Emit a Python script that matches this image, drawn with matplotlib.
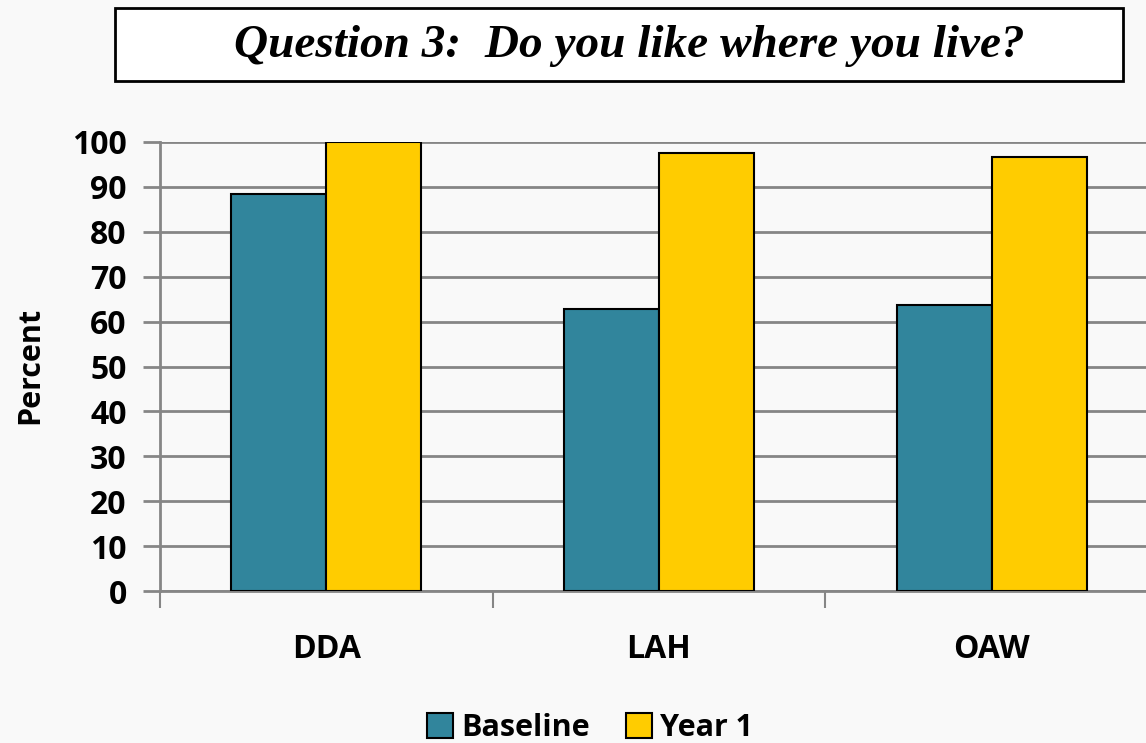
import matplotlib.pyplot as plt
import numpy as np
from matplotlib.patches import Rectangle

# survey results, percent answering yes
sites = ['DDA', 'LAH', 'OAW']
baseline = [88.5, 62.8, 63.7]
year1 = [100.0, 97.5, 96.7]
series_names = ['Baseline', 'Year 1']
yticks = list(range(0, 101, 10))

teal = '#31859c'
gold = '#ffcc00'
grid_col = '#868686'
bg = '#f9f9f9'

plt.rcParams['font.family'] = ['Open Sans', 'DejaVu Sans']

fig = plt.figure(figsize=(11.46, 7.43), dpi=100, facecolor=bg)
ax = fig.add_axes([160 / 1146, 1 - 591 / 743, 998 / 1146, 449 / 743])
ax.set_facecolor('none')

x = np.arange(len(sites))
w = 0.286
ax.bar(x - w / 2, baseline, w, color=teal, edgecolor='black', linewidth=1.5,
       label=series_names[0], zorder=3)
ax.bar(x + w / 2, year1, w, color=gold, edgecolor='black', linewidth=1.5,
       label=series_names[1], zorder=3)

ax.set_xlim(-0.5, len(sites) - 0.5)
ax.set_ylim(0, 100)
ax.set_yticks(yticks)
ax.set_yticklabels([str(t) for t in yticks], fontsize=23, fontweight='bold')
ax.yaxis.grid(True, color=grid_col, linewidth=2, zorder=0)
ax.tick_params(axis='y', length=12, width=2, color=grid_col, pad=12)

# category separators on the x axis
ax.set_xticks(np.arange(len(sites) + 1) - 0.5, minor=False)
ax.set_xticklabels([])
ax.tick_params(axis='x', length=12, width=1.5, color=grid_col, direction='out')
for i, s in enumerate(sites):
    ax.text(i, -13, s, ha='center', va='center', fontsize=23,
            fontweight='bold', transform=ax.transData, clip_on=False)

for side in ['top', 'right']:
    ax.spines[side].set_visible(False)
ax.spines['left'].set_color(grid_col)
ax.spines['left'].set_linewidth(2)
ax.spines['bottom'].set_color(grid_col)
ax.spines['bottom'].set_linewidth(2)

fig.text(30 / 1146, 1 - 365 / 743, 'Percent', rotation=90, ha='center',
         va='center', fontsize=22, fontweight='bold')

# title box
fig.patches.append(Rectangle((115 / 1146, 1 - 81 / 743), 1008 / 1146, 73 / 743,
                             transform=fig.transFigure, facecolor='white',
                             edgecolor='black', linewidth=2))
fig.text(629 / 1146, 1 - 46 / 743, 'Question 3:  Do you like where you live?',
         ha='center', va='center', fontsize=34, fontstyle='italic',
         fontweight='bold', family=['Liberation Serif', 'DejaVu Serif'])

leg = fig.legend(loc='center', bbox_to_anchor=(590 / 1146, 1 - 728 / 743),
                 ncol=2, frameon=False, prop={'weight': 'bold', 'size': 22},
                 handlelength=0.85, handleheight=0.85, handletextpad=0.25,
                 columnspacing=1.2)

fig.savefig('out.png', dpi=100, facecolor=bg)
